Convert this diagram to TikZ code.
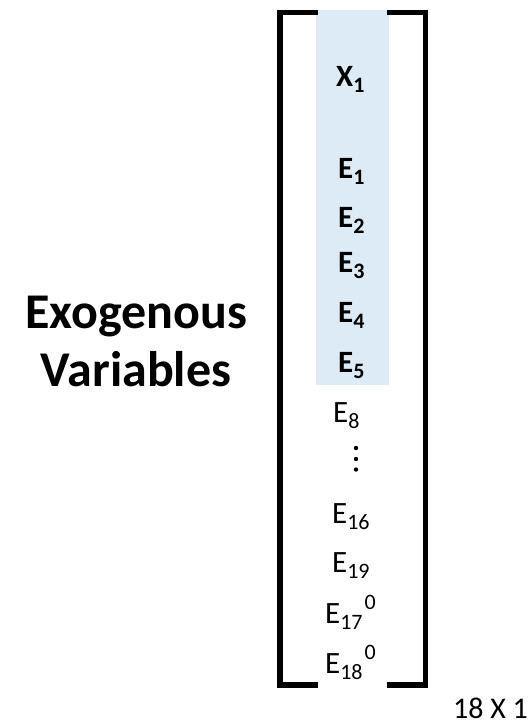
\documentclass[tikz,border=0pt]{standalone}
\usepackage{fontspec}
\setmainfont{Carlito}
\definecolor{cellblue}{HTML}{DDEBF7}
\newcommand\sbx[1]{\raisebox{-6pt}{\fontsize{22}{22}\selectfont #1}}
\newcommand\spx[1]{\kern2pt\raisebox{14pt}{\fontsize{22}{22}\selectfont #1}}
\begin{document}
\begin{tikzpicture}[x=1pt,y=-1pt]
\tikzset{
  cell/.style={anchor=base west,inner sep=0pt,font=\fontsize{31}{31}\selectfont},
  bcell/.style={anchor=base west,inner sep=0pt,font=\fontsize{31}{31}\selectfont\bfseries},
  dimlabel/.style={anchor=base east,inner sep=0pt,font=\fontsize{30}{30}\selectfont},
  title/.style={anchor=base,inner sep=0pt,font=\fontsize{50}{50}\selectfont\bfseries},
  brack/.style={line width=5.5pt,line join=miter},
  dot/.style={fill=black}
}
\useasboundingbox (0,0) rectangle (530,724);
\fill[cellblue] (316,10) rectangle (389,385);
\draw[brack] (318,12.5) -- (280,12.5) -- (280,685) -- (318,685);
\draw[brack] (387,12.5) -- (425.5,12.5) -- (425.5,685) -- (387,685);
\node[bcell] (x1) at (336,86) {X\sbx{1}};
\node[bcell] (e1) at (338,178) {E\sbx{1}};
\node[bcell] (e2) at (338,227) {E\sbx{2}};
\node[bcell] (e3) at (338,272) {E\sbx{3}};
\node[bcell] (e4) at (338,322) {E\sbx{4}};
\node[bcell] (e5) at (338,372) {E\sbx{5}};
\node[cell] (e8) at (333,422) {E\sbx{8}};
\fill[dot] (356,448) circle (2.2);
\fill[dot] (356,459) circle (2.2);
\fill[dot] (356,469.5) circle (2.2);
\node[cell] (e16) at (332,523) {E\sbx{16}};
\node[cell] (e19) at (332,572) {E\sbx{19}};
\node[cell] (e17) at (325,623) {E\sbx{17}\spx{0}};
\node[cell] (e18) at (325,673) {E\sbx{18}\spx{0}};
\node[dimlabel] (size) at (528,718) {18 X 1};
\node[title] (t1) at (136,328) {Exogenous};
\node[title] (t2) at (136,386) {Variables};
\end{tikzpicture}
\end{document}
